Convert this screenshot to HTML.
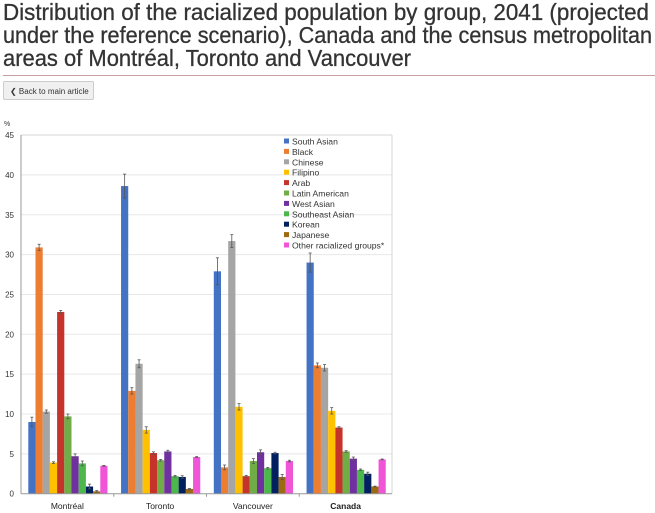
<!DOCTYPE html>
<html><head><meta charset="utf-8"><style>
body{margin:0;background:#fff;width:655px;height:513px;overflow:hidden;font-family:"Liberation Sans",sans-serif;position:relative}
.hr{position:absolute;left:3px;top:75px;width:652px;height:1px;background:#c9a0a4}
.btn{position:absolute;left:3px;top:81px;width:91px;height:19px;border:1px solid #ccc;background:#f0f0f0;border-radius:2px;font-size:8px;color:#333;line-height:19px;box-sizing:border-box;padding-left:6px}
svg{position:absolute;left:0;top:0}
</style></head><body>
<div class="hr"></div>
<div class="btn">&#10094; Back to main article</div>
<svg id="s" width="655" height="513" xmlns="http://www.w3.org/2000/svg" font-family="Liberation Sans, sans-serif">
<g font-size="23" fill="#333" stroke="#333" stroke-width="0.3">
<text x="3" y="20" textLength="646" lengthAdjust="spacingAndGlyphs">Distribution of the racialized population by group, 2041 (projected</text>
<text x="3" y="43" textLength="649" lengthAdjust="spacingAndGlyphs">under the reference scenario), Canada and the census metropolitan</text>
<text x="3" y="66" textLength="408" lengthAdjust="spacingAndGlyphs">areas of Montréal, Toronto and Vancouver</text>
</g>
<g id="c"></g>
</svg>
<script>
const s=document.getElementById('c');
const cols=['#4472c4','#ed7d31','#a5a5a5','#ffc000','#c5332b','#70ad47','#7030a0','#4cb84c','#002060','#9c6a10','#f055d8'];
const names=['South Asian','Black','Chinese','Filipino','Arab','Latin American','West Asian','Southeast Asian','Korean','Japanese','Other racialized groups*'];
const V=[[9.0,30.9,10.3,3.9,22.8,9.7,4.7,3.8,0.9,0.3,3.5],[38.6,12.9,16.3,8.0,5.1,4.2,5.3,2.2,2.1,0.6,4.6],[27.9,3.3,31.7,10.9,2.2,4.1,5.2,3.2,5.1,2.1,4.1],[29.0,16.1,15.8,10.4,8.3,5.3,4.4,3.0,2.5,0.9,4.3]];
const E=[[0.6,0.4,0.2,0.1,0.2,0.3,0.3,0.3,0.3,0.1,0.05],[1.5,0.4,0.5,0.4,0.15,0.1,0.15,0.1,0.15,0.05,0.05],[1.7,0.3,0.8,0.4,0.1,0.3,0.3,0.1,0.1,0.3,0.1],[1.2,0.3,0.4,0.4,0.1,0.1,0.2,0.1,0.2,0.05,0.05]];
const cats=['Montréal','Toronto','Vancouver','Canada'];
const y0=493.7,k=7.97,x0=21,x1=392,cw=(x1-x0)/4,bw=7.2;
let h='';
for(let i=1;i<=9;i++){const y=y0-i*5*k;h+=`<line x1="${x0}" x2="${x1}" y1="${y}" y2="${y}" stroke="#e8e8e8" stroke-width="1"/>`;}
h+=`<line x1="${x0}" x2="${x1}" y1="${y0-45*k}" y2="${y0-45*k}" stroke="#d4d4d4"/><line x1="${x1}" x2="${x1}" y1="${y0-45*k}" y2="${y0}" stroke="#d4d4d4"/>`;
for(let i=0;i<=9;i++){const y=y0-i*5*k;h+=`<text x="14" y="${y+3}" font-size="8" fill="#333" text-anchor="end">${i*5}</text>`;}
h+=`<text x="4" y="126" font-size="7" fill="#333">%</text>`;
V.forEach((g,c)=>{const gs=x0+c*cw+7.3;g.forEach((v,j)=>{const x=gs+j*bw,y=y0-v*k;h+=`<rect x="${x}" y="${y}" width="${bw}" height="${v*k}" fill="${cols[j]}"/>`;
const e=E[c][j]*k,cx=x+bw/2;h+=`<g stroke="#555" stroke-width="0.8"><line x1="${cx}" x2="${cx}" y1="${y-e}" y2="${y+e}"/><line x1="${cx-1.5}" x2="${cx+1.5}" y1="${y-e}" y2="${y-e}"/><line x1="${cx-1.5}" x2="${cx+1.5}" y1="${y+e}" y2="${y+e}"/></g>`;});
h+=`<text x="${x0+c*cw+cw/2}" y="509" font-size="8.5" fill="#222" text-anchor="middle" ${c==3?'font-weight="bold"':''}>${cats[c]}</text>`;});
h+=`<line x1="${x0}" x2="${x0}" y1="${y0-45*k}" y2="${y0}" stroke="#999"/><line x1="${x0}" x2="${x1}" y1="${y0}" y2="${y0}" stroke="#999"/>`;
for(let c=1;c<4;c++){const x=x0+c*cw;h+=`<line x1="${x}" x2="${x}" y1="${y0}" y2="${y0+3}" stroke="#999"/>`;}
names.forEach((n,j)=>{const y=142+j*10.4;h+=`<rect x="284" y="${y-3.5}" width="5" height="5" fill="${cols[j]}"/><text x="292" y="${y+2.5}" font-size="8.6" fill="#333">${n}</text>`;});
s.innerHTML=h;
</script>
</body></html>
